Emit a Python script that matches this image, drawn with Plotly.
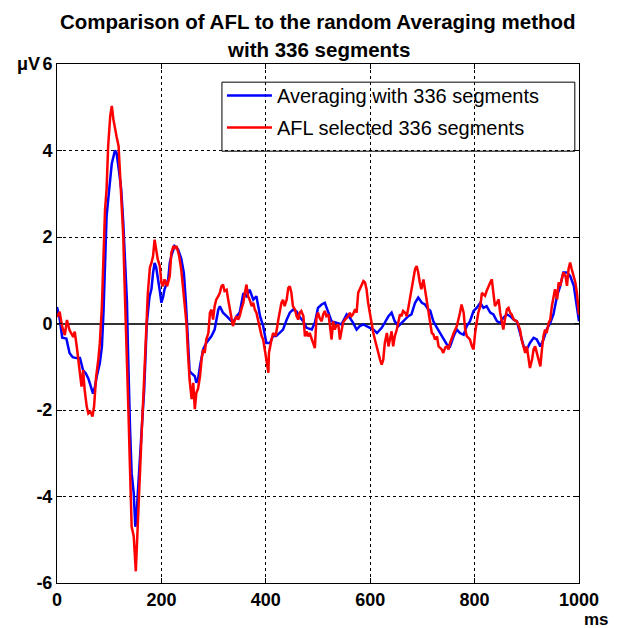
import plotly.graph_objects as go

# ---- data ----
avg_t = [0, 5, 10, 18, 24, 30, 37, 44, 50, 55, 60, 66, 69, 73, 76, 82, 86, 89, 92, 95,
         100, 105, 111, 114, 119, 123, 127, 131, 134, 136, 137, 140, 143, 147, 150, 152, 154, 158, 163, 167,
         172, 177, 181, 184, 187, 190, 193, 197, 200, 203, 206, 213, 216, 219, 225, 229, 232, 238, 243, 247,
         251, 254, 257, 261, 264, 267, 270, 274, 277, 280, 286, 296, 302, 309, 312, 318, 325, 331, 337, 344,
         350, 357, 363, 369, 376, 382, 389, 395, 401, 408, 414, 420, 427, 433, 440, 446, 452, 459, 465, 472,
         478, 488, 494, 500, 507, 513, 520, 526, 535, 545, 555, 561, 567, 574, 580, 587, 593, 599, 606, 613,
         622, 628, 635, 641, 647, 654, 660, 667, 673, 679, 686, 692, 699, 705, 711, 715, 721, 728, 734, 740,
         747, 753, 760, 766, 772, 779, 785, 791, 798, 804, 811, 817, 823, 830, 836, 843, 849, 855, 862, 868,
         875, 881, 887, 894, 900, 906, 913, 919, 926, 932, 938, 945, 951, 958, 964, 970, 977, 983, 990, 996,
         1000]
avg_v = [0.38, 0.12, -0.33, -0.35, -0.68, -0.78, -0.8, -0.8, -1.08, -1.15, -1.27, -1.5, -1.62, -1.45, -1.23, -0.92, -0.54, 0.23, 1.55, 2.48,
         3.1, 3.7, 4.0, 3.95, 3.5, 3.1, 2.32, 1.32, 0.5, -0.6, -1.3, -2.46, -3.46, -3.92, -4.7, -4.55, -4.08, -3.38, -2.3, -1.54,
         0.0, 0.6, 0.8, 1.17, 1.4, 1.3, 1.1, 0.75, 0.48, 0.6, 0.79, 1.02, 1.4, 1.56, 1.79, 1.75, 1.71, 1.5, 1.17, 0.48,
         -0.45, -1.1, -1.14, -1.18, -1.22, -1.37, -1.3, -0.98, -0.8, -0.6, -0.45, -0.29, -0.14, 0.32, 0.4, 0.25, 0.17, 0.09, 0.02, 0.17,
         0.25, 0.7, 0.63, 0.78, 0.55, 0.63, 0.17, -0.06, -0.45, -0.45, -0.29, -0.29, -0.2, -0.14, 0.09, 0.25, 0.32, 0.28, 0.15, 0.05,
         -0.1, -0.14, 0.02, 0.36, 0.44, 0.48, 0.25, 0.05, 0.02, -0.02, 0.21, 0.13, 0.02, -0.14, -0.06, -0.02, -0.06, -0.1, -0.14, -0.22,
         -0.1, 0.02, 0.17, 0.25, 0.05, -0.06, 0.02, 0.09, 0.17, 0.21, 0.48, 0.6, 0.48, 0.44, 0.33, 0.3, 0.05, -0.1, -0.22, -0.37,
         -0.49, -0.53, -0.29, -0.14, -0.22, -0.26, -0.06, 0.05, 0.29, 0.36, 0.48, 0.36, 0.4, 0.25, 0.21, 0.05, 0.02, 0.13, 0.21, 0.17,
         0.09, 0.05, -0.22, -0.53, -0.6, -0.45, -0.33, -0.37, -0.53, -0.37, -0.14, 0.02, 0.21, 0.64, 0.87, 1.18, 1.18, 1.1, 0.87, 0.4,
         0.05]

afl_t = [0, 5, 10, 15, 19, 24, 31, 34, 38, 41, 44, 47, 50, 53, 57, 60, 64, 68, 71, 75,
         79, 82, 86, 89, 92, 95, 98, 102, 105, 108, 111, 114, 118, 121, 124, 127, 129, 132, 135, 137,
         139, 141, 143, 147, 149, 151, 153, 156, 159, 163, 166, 169, 172, 174, 176, 178, 181, 184, 187, 190,
         193, 197, 200, 203, 206, 211, 216, 219, 223, 226, 229, 234, 238, 243, 246, 248, 251, 254, 258, 261,
         264, 267, 270, 274, 277, 280, 283, 286, 290, 293, 296, 299, 302, 305, 309, 312, 315, 318, 321, 325,
         328, 331, 334, 337, 341, 344, 347, 350, 353, 357, 360, 363, 366, 369, 373, 376, 379, 382, 385, 389,
         392, 395, 398, 401, 405, 406, 408, 411, 414, 419, 424, 427, 430, 433, 436, 440, 443, 446, 449, 452,
         456, 459, 462, 465, 468, 472, 475, 478, 481, 484, 488, 491, 494, 497, 500, 503, 507, 510, 513, 516,
         520, 523, 526, 529, 532, 535, 539, 542, 545, 548, 552, 555, 558, 561, 564, 567, 571, 574, 577, 580,
         583, 587, 590, 593, 596, 599, 603, 606, 609, 612, 616, 619, 622, 625, 628, 632, 635, 638, 641, 644,
         647, 651, 654, 657, 660, 663, 667, 670, 673, 676, 679, 683, 686, 689, 692, 695, 698, 702, 705, 708,
         711, 714, 718, 721, 724, 728, 731, 737, 740, 744, 747, 750, 753, 760, 766, 772, 775, 779, 782, 785,
         791, 795, 798, 801, 804, 807, 811, 814, 820, 823, 830, 833, 836, 839, 843, 846, 849, 852, 855, 858,
         862, 865, 868, 871, 875, 881, 887, 890, 894, 897, 900, 903, 906, 910, 913, 916, 919, 922, 926, 929,
         932, 935, 938, 942, 945, 948, 951, 954, 958, 961, 964, 967, 970, 974, 977, 980, 983, 986, 990, 993,
         996, 999, 1000]
afl_v = [0.15, 0.27, -0.08, -0.27, 0.08, -0.15, -0.31, -0.19, -0.55, -0.85, -1.15, -1.46, -1.08, -1.54, -1.92, -2.08, -2.04, -2.15, -1.92, -1.23,
         -0.85, -0.46, 0.4, 1.7, 2.63, 3.1, 4.1, 4.8, 5.03, 4.72, 4.56, 4.33, 4.1, 3.4, 2.86, 2.0, 1.1, 0.0, -0.92, -2.08,
         -3.0, -4.0, -4.7, -4.92, -5.38, -5.73, -5.15, -4.3, -3.08, -2.3, -1.54, -0.54, 0.15, 0.7, 1.0, 1.3, 1.4, 1.56, 1.94, 1.71,
         1.48, 1.33, 0.94, 0.86, 1.02, 0.86, 1.1, 1.63, 1.79, 1.75, 1.79, 1.56, 1.25, 0.63, 0.2, 0.0, -0.7, -1.3, -1.75, -1.37,
         -1.98, -1.6, -1.52, -1.22, -0.83, -0.6, -0.68, -0.37, -0.22, 0.25, 0.32, 0.09, 0.4, 0.55, 0.63, 0.71, 0.86, 0.9, 0.75, 0.78,
         0.55, 0.32, 0.09, -0.06, 0.09, 0.17, 0.09, 0.17, 0.32, 0.48, 0.71, 0.9, 0.63, 0.55, 0.4, 0.48, 0.32, 0.25, 0.09, -0.14,
         -0.29, -0.37, -0.6, -0.75, -1.14, -0.68, -0.52, -0.37, -0.22, -0.29, 0.09, 0.25, 0.48, 0.55, 0.4, 0.55, 0.82, 0.86, 0.71, 0.4,
         0.32, 0.17, 0.09, 0.25, 0.29, 0.17, -0.3, -0.18, -0.3, -0.22, -0.37, -0.45, -0.57, 0.13, 0.25, 0.13, 0.05, 0.21, 0.29, 0.17,
         0.21, -0.06, -0.37, 0.05, -0.14, -0.06, -0.02, -0.37, -0.14, 0.02, 0.09, 0.13, 0.17, 0.25, 0.17, 0.21, 0.33, 0.25, 0.71, 0.79,
         0.87, 0.98, 0.95, 0.79, 0.48, 0.25, 0.02, -0.22, -0.37, -0.53, -0.68, -0.84, -0.95, -0.84, -0.45, -0.22, -0.53, -0.3, -0.18, -0.53,
         -0.3, -0.14, 0.02, 0.21, 0.17, 0.29, 0.25, 0.17, 0.36, 0.56, 0.79, 1.02, 1.26, 1.33, 1.18, 0.95, 0.79, 1.02, 0.79, 0.56,
         0.25, 0.09, -0.22, -0.25, -0.37, -0.3, -0.53, -0.6, -0.68, -0.55, -0.53, -0.6, -0.45, -0.22, -0.06, 0.25, 0.44, 0.25, -0.14, -0.29,
         -0.37, -0.53, -0.6, -0.22, 0.09, 0.25, 0.4, 0.71, 0.64, 0.75, 0.95, 1.02, 0.71, 0.4, 0.48, 0.56, 0.25, 0.02, -0.14, 0.09,
         0.33, 0.36, 0.25, 0.21, 0.09, 0.05, -0.14, -0.37, -0.53, -0.68, -0.53, -0.76, -1.03, -0.84, -0.6, -0.53, -0.68, -0.84, -0.99, -0.6,
         -0.29, -0.14, -0.22, 0.02, 0.09, 0.4, 0.64, 0.79, 0.56, 0.95, 0.87, 1.02, 1.18, 1.1, 0.87, 1.26, 1.41, 1.26, 1.1, 0.95,
         0.71, 0.33, 0.2]

x_ticks = [0, 200, 400, 600, 800, 1000]
x_tick_labels = ["0", "200", "400", "600", "800", "1000"]
y_ticks = [-6, -4, -2, 0, 2, 4, 6]
y_tick_labels = ["-6", "-4", "-2", "0", "2", "4", "6"]

title_lines = ["Comparison of AFL to the random Averaging method", "with 336 segments"]
avg_name = "Averaging with 336 segments"
afl_name = "AFL selected 336 segments"

FONT = "Liberation Sans, Arial, sans-serif"

fig = go.Figure()
fig.add_trace(go.Scatter(x=avg_t, y=avg_v, mode="lines", name=avg_name,
                         line=dict(color="#0000ff", width=2.5), legendgroup="a"))
fig.add_trace(go.Scatter(x=afl_t, y=afl_v, mode="lines", name=afl_name,
                         line=dict(color="#ff0000", width=2.5), legendgroup="b"))

axis_common = dict(showline=True, linecolor="black", linewidth=1, mirror="ticks",
                   ticks="inside", ticklen=5, tickcolor="black",
                   showgrid=True, gridcolor="black", griddash="dot", gridwidth=1,
                   tickfont=dict(family=FONT, size=18, color="black", weight="bold"))

fig.update_xaxes(range=[0, 1000], tickvals=x_ticks, ticktext=x_tick_labels,
                 zeroline=False, **axis_common)
fig.update_yaxes(range=[-6, 6], tickvals=y_ticks, ticktext=y_tick_labels,
                 zeroline=True, zerolinecolor="#333333", zerolinewidth=1.5, **axis_common)

fig.update_layout(
    width=617, height=628,
    margin=dict(l=57, r=38, t=64, b=45),
    paper_bgcolor="white", plot_bgcolor="white",
    legend=dict(x=0.316, y=0.977, xanchor="left", yanchor="top",
                bgcolor="rgba(0,0,0,0)", borderwidth=0,
                font=dict(family=FONT, size=20, color="black"),
                itemwidth=45, tracegroupgap=3),
    showlegend=True,
    shapes=[
        # legend frame (white box with black border, like the reference)
        dict(type="rect", xref="paper", yref="paper", x0=0.316, x1=0.992, y0=0.832, y1=0.965,
             line=dict(color="black", width=1), fillcolor="white", layer="between"),
    ],
    annotations=[
        dict(text=title_lines[0], x=0.5, y=1.081, xref="paper", yref="paper",
             xanchor="center", yanchor="middle", showarrow=False,
             font=dict(family=FONT, size=20.5, color="black", weight="bold")),
        dict(text=title_lines[1], x=0.5, y=1.027, xref="paper", yref="paper",
             xanchor="center", yanchor="middle", showarrow=False,
             font=dict(family=FONT, size=20.5, color="black", weight="bold")),
        dict(text="μV", x=-0.029, y=1.0, xref="paper", yref="paper",
             xanchor="right", yanchor="middle", showarrow=False,
             font=dict(family=FONT, size=18, color="black", weight="bold")),
        dict(text="ms", x=1.034, y=-0.071, xref="paper", yref="paper",
             xanchor="center", yanchor="middle", showarrow=False,
             font=dict(family=FONT, size=17, color="black", weight="bold")),
    ],
)

fig.write_html("out.html")
